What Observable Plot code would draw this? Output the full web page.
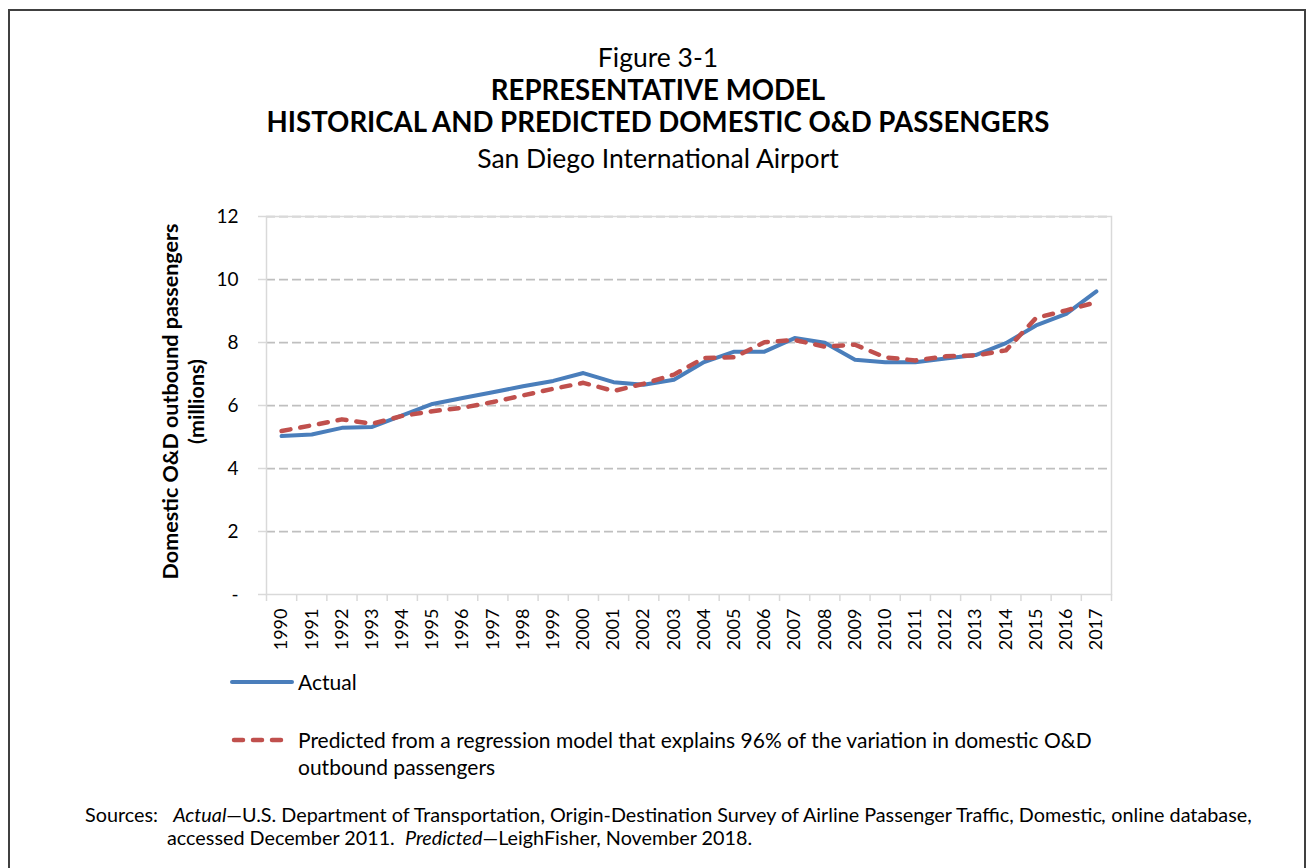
<!DOCTYPE html>
<html>
<head>
<meta charset="utf-8">
<script src="https://cdn.jsdelivr.net/npm/d3@7"></script>
<script src="https://cdn.jsdelivr.net/npm/@observablehq/plot@0.6"></script>
<style>
  body { margin: 0; background: #fff; font-family: Lato, sans-serif; color: #000; }
  #page { position: relative; width: 1306px; height: 868px; overflow: hidden; background: #fff; }
  #border { position: absolute; left: 8px; top: 9px; width: 1294px; height: 900px; border: 2px solid #404040; z-index: 5; background: transparent; pointer-events: none; }
  .t { position: absolute; left: 0; width: 1316px; text-align: center; white-space: nowrap; line-height: 28px; height: 28px; font-size: 26.5px; }
  .b { font-weight: bold; font-size: 27.6px; }
  #chart { position: absolute; left: 0; top: 190px; }
  .leg { position: absolute; font-size: 21px; white-space: nowrap; }
  .src { position: absolute; font-size: 19.8px; white-space: pre; line-height: 23px; }
</style>
</head>
<body>
<div id="page">
  <div id="border"></div>
  <div class="t" style="top:43px">Figure 3-1</div>
  <div class="t b" style="top:76px">REPRESENTATIVE MODEL</div>
  <div class="t b" style="top:108px">HISTORICAL AND PREDICTED DOMESTIC O&amp;D PASSENGERS</div>
  <div class="t" style="top:144px">San Diego International Airport</div>
  <div id="chart"></div>
  <svg style="position:absolute;left:228px;top:672px" width="70" height="20">
    <line x1="4" y1="10" x2="64" y2="10" stroke="#4a7ebb" stroke-width="4" stroke-linecap="round"/>
  </svg>
  <div class="leg" style="left:298px;top:669px;line-height:26px">Actual</div>
  <svg style="position:absolute;left:228px;top:730px" width="70" height="20">
    <line x1="6" y1="10" x2="62" y2="10" stroke="#c0504d" stroke-width="4.5" stroke-dasharray="9,10" stroke-linecap="round"/>
  </svg>
  <div class="leg" style="left:298px;top:726px;line-height:27px">Predicted from a regression model that explains 96% of the variation in domestic O&amp;D<br>outbound passengers</div>
  <div class="src" style="left:85px;top:803px">Sources:   <i>Actual</i>—U.S. Department of Transportation, Origin-Destination Survey of Airline Passenger Traffic, Domestic<i>,</i> online database,</div>
  <div class="src" style="left:167px;top:826px">accessed December 2011.  <i>Predicted</i>—LeighFisher, November 2018.</div>
</div>
<script>
const years = [1990,1991,1992,1993,1994,1995,1996,1997,1998,1999,2000,2001,2002,2003,2004,2005,2006,2007,2008,2009,2010,2011,2012,2013,2014,2015,2016,2017];
const actual = [5.03,5.08,5.29,5.32,5.69,6.05,6.24,6.42,6.61,6.78,7.03,6.74,6.66,6.82,7.38,7.71,7.71,8.14,7.99,7.45,7.37,7.37,7.49,7.60,7.98,8.54,8.91,9.62];
const predicted = [5.19,5.37,5.56,5.42,5.67,5.82,5.93,6.11,6.32,6.53,6.72,6.46,6.69,6.98,7.51,7.53,8.01,8.08,7.87,7.93,7.53,7.43,7.56,7.59,7.75,8.78,9.02,9.28];
const yTicks = [0,2,4,6,8,10,12];
const yTickLabels = ["-","2","4","6","8","10","12"];
const yLabelLines = ["Domestic O&D outbound passengers","(millions)"];

const data = years.map((y, i) => ({year: y, actual: actual[i], predicted: predicted[i]}));
const boundaries = years.map(y => y - 0.5).concat([years[years.length - 1] + 0.5]);

const chart = Plot.plot({
  width: 1306,
  height: 470,
  marginTop: 26,
  marginLeft: 266,
  marginRight: 195,
  marginBottom: 66,
  x: {domain: [years[0] - 0.5, years[years.length - 1] + 0.5]},
  y: {domain: [0, 12]},
  style: {fontFamily: "Lato, sans-serif", color: "#000", background: "transparent", overflow: "visible"},
  marks: [
    Plot.ruleY(yTicks.filter(d => d > 0), {stroke: "#bfbfbf", strokeWidth: 1.75, strokeDasharray: "9,4"}),
    Plot.frame({stroke: "#d9d9d9", strokeWidth: 1.5}),
    Plot.axisY({ticks: yTicks, tickSize: 8, tickPadding: 20, stroke: "#d9d9d9", strokeWidth: 1.5, fill: "#000",
      tickFormat: d => yTickLabels[yTicks.indexOf(d)], fontSize: 19, label: null}),
    Plot.axisX({ticks: boundaries, tickSize: 7, stroke: "#d9d9d9", strokeWidth: 1.5, tickFormat: () => "", label: null}),
    Plot.axisX({ticks: years, tickSize: 0, tickPadding: 14, tickRotate: -90, fill: "#000",
      tickFormat: d => String(d), fontSize: 18, label: null}),
    Plot.line(data, {x: "year", y: "actual", stroke: "#4a7ebb", strokeWidth: 4, strokeLinejoin: "round"}),
    Plot.line(data, {x: "year", y: "predicted", stroke: "#c0504d", strokeWidth: 4.5, strokeDasharray: "9,10", strokeLinecap: "round", strokeLinejoin: "round"}),
    Plot.text([yLabelLines[0]], {frameAnchor: "left", rotate: -90, textAnchor: "middle", dx: -95, dy: -4, text: d => d, fontWeight: "bold", fontSize: 21.5, fill: "#000"}),
    Plot.text([yLabelLines[1]], {frameAnchor: "left", rotate: -90, textAnchor: "middle", dx: -69, dy: -4, text: d => d, fontWeight: "bold", fontSize: 21.5, fill: "#000"})
  ]
});
document.getElementById("chart").appendChild(chart);
</script>
</body>
</html>
